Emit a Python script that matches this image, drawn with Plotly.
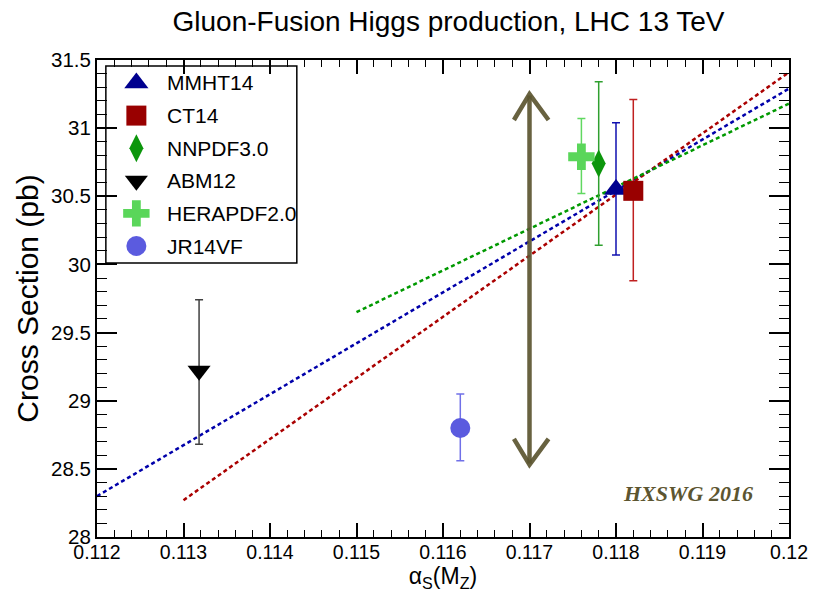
import plotly.graph_objects as go

# ---- data ----
pdf_names = ["MMHT14", "CT14", "NNPDF3.0", "ABM12", "HERAPDF2.0", "JR14VF"]
alpha_s = [0.1180, 0.1182, 0.1178, 0.11318, 0.1176, 0.1162]
xsec = [30.55, 30.54, 30.74, 29.22, 30.79, 28.80]
err_plus = [0.49, 0.67, 0.60, 0.52, 0.28, 0.25]
err_minus = [0.48, 0.66, 0.60, 0.54, 0.27, 0.24]
symbols = ["triangle-up", "square", "diamond-tall", "triangle-down", "cross", "circle"]
marker_colors = ["#00008f", "#990000", "#0c960c", "#000000", "#5ad65a", "#5b5bdf"]
err_colors = ["#1010b0", "#c02020", "#30a030", "#404040", "#60d860", "#7070e8"]
marker_sizes = [21, 20, 20, 20, 22, 20]

# alpha_s-dependence fits (endpoints)
line_x = [[0.112, 0.120], [0.113, 0.120], [0.115, 0.120]]
line_y = [[28.30, 31.29], [28.27, 31.41], [29.65, 31.18]]
line_colors = ["#0000aa", "#aa0000", "#009900"]

# PDG alpha_s range arrow
arrow_shaft_x = [0.1170, 0.1170]
arrow_shaft_y = [28.54, 31.24]
arrow_top_x = [0.11682, 0.1170, 0.11722]
arrow_top_y = [31.06, 31.25, 31.06]
arrow_bot_x = [0.11682, 0.1170, 0.11722]
arrow_bot_y = [28.72, 28.53, 28.72]
arrow_color = "#5c5530"

x_ticks = [0.112, 0.113, 0.114, 0.115, 0.116, 0.117, 0.118, 0.119, 0.120]
y_ticks = [28, 28.5, 29, 29.5, 30, 30.5, 31, 31.5]

FONT = "Liberation Sans, Arial, Helvetica, sans-serif"

W, H = 820, 597
# plot area in pixels
L, R, T, B = 97, 800, 60, 537
def px_x(p):
    return (p - L) / (R - L)
def px_y(p):
    return (B - p) / (B - T)

fig = go.Figure()

for i in range(3):
    fig.add_trace(go.Scatter(
        x=line_x[i], y=line_y[i], mode="lines",
        line=dict(color=line_colors[i], width=2.5, dash="4px,3px"),
        showlegend=False, hoverinfo="skip"))

for xs, ys in [(arrow_shaft_x, arrow_shaft_y), (arrow_top_x, arrow_top_y), (arrow_bot_x, arrow_bot_y)]:
    fig.add_trace(go.Scatter(
        x=xs, y=ys, mode="lines",
        line=dict(color=arrow_color, width=4.5),
        opacity=0.92, showlegend=False, hoverinfo="skip"))

for i, name in enumerate(pdf_names):
    fig.add_trace(go.Scatter(
        x=[alpha_s[i]], y=[xsec[i]], mode="markers", name=name,
        showlegend=False, hoverinfo="skip",
        marker=dict(symbol=symbols[i], size=marker_sizes[i], color=marker_colors[i],
                    opacity=1, line=dict(width=0)),
        error_y=dict(type="data", symmetric=False, array=[err_plus[i]],
                     arrayminus=[err_minus[i]], color=err_colors[i],
                     thickness=1.5, width=4),
    ))

# ---- manual legend (drawn on an overlay axis in plot-fraction units) ----
leg_rows = [px_y(83 + 32.6 * k) for k in range(len(pdf_names))]
fig.add_shape(type="rect", xref="paper", yref="paper",
              x0=px_x(106), x1=px_x(300), y0=px_y(263), y1=px_y(66),
              line=dict(color="black", width=1.5), fillcolor="rgba(0,0,0,0)", layer="above")
fig.add_trace(go.Scatter(
    x=[px_x(137)] * len(pdf_names), y=leg_rows, mode="markers",
    xaxis="x2", yaxis="y2", showlegend=False, hoverinfo="skip",
    marker=dict(symbol=symbols, size=marker_sizes, color=marker_colors, opacity=1, line=dict(width=0)),
))
for i, name in enumerate(pdf_names):
    fig.add_annotation(x=px_x(166), y=leg_rows[i], xref="paper", yref="paper",
                       text=name, showarrow=False, xanchor="left", yanchor="middle",
                       font=dict(family=FONT, size=21, color="black"))

fig.add_annotation(x=0.11883, y=28.32, xref="x", yref="y",
                   text="<b><i>HXSWG 2016</i></b>", showarrow=False,
                   font=dict(family="Liberation Serif, DejaVu Serif, serif", size=22, color=arrow_color))

axis_common = dict(
    showline=True, linecolor="black", linewidth=2, mirror="allticks",
    ticks="inside", tickcolor="black", showgrid=False, zeroline=False,
)

fig.update_xaxes(
    range=[0.112, 0.120], tickvals=x_ticks, ticklen=14, tickwidth=1.5,
    tickfont=dict(family=FONT, size=19.5, color="black"), ticklabelstandoff=-3,
    minor=dict(dtick=0.0002, ticklen=7, tickwidth=1.2, tickcolor="black", ticks="inside", showgrid=False),
    title=dict(text="α<sub>S</sub>(M<sub>Z</sub>)", font=dict(family=FONT, size=23, color="black"), standoff=0),
    **axis_common)
fig.update_yaxes(
    range=[28, 31.5], tickvals=y_ticks, ticklen=20, tickwidth=1.5,
    tickfont=dict(family=FONT, size=20.5, color="black"),
    minor=dict(dtick=0.1, ticklen=10, tickwidth=1.2, tickcolor="black", ticks="inside", showgrid=False),
    title=dict(text="Cross Section (pb)", font=dict(family=FONT, size=30, color="black"), standoff=3),
    **axis_common)
fig.update_layout(
    xaxis2=dict(overlaying="x", range=[0, 1], visible=False, fixedrange=True),
    yaxis2=dict(overlaying="y", range=[0, 1], visible=False, fixedrange=True),
)

fig.update_layout(
    width=W, height=H,
    margin=dict(l=L, r=W - R, t=T, b=H - B),
    paper_bgcolor="white", plot_bgcolor="white",
    hovermode=False,
    title=dict(text="Gluon-Fusion Higgs production, LHC 13 TeV", x=448.5 / W, xanchor="center",
               y=1 - 21 / H, yanchor="middle", font=dict(family=FONT, size=28, color="black")),
    showlegend=False,
)

# remove the default 8px page margin so the figure sits at the window's top-left corner
fig.write_html("out.html", config={"displayModeBar": False},
               post_script="document.body.style.margin='0';document.body.style.overflow='hidden';")
